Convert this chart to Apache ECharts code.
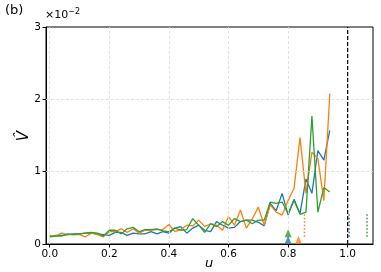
<!DOCTYPE html>
<html><head><meta charset="utf-8">
<script src="https://cdn.jsdelivr.net/npm/echarts@6/dist/echarts.min.js"></script>
<style>html,body{margin:0;padding:0;background:#fff}#c{width:381px;height:272px}</style>
</head><body><div id="c"></div>
<script>
const u = [0.00,0.02,0.04,0.06,0.08,0.10,0.12,0.14,0.16,0.18,0.20,0.22,0.24,0.26,0.28,0.30,0.32,0.34,0.36,0.38,0.40,0.42,0.44,0.46,0.48,0.50,0.52,0.54,0.56,0.58,0.60,0.62,0.64,0.66,0.68,0.70,0.72,0.74,0.76,0.78,0.80,0.82,0.84,0.86,0.88,0.90,0.92,0.94];
const blue = [0.11,0.12,0.12,0.13,0.14,0.14,0.15,0.15,0.14,0.13,0.12,0.16,0.16,0.12,0.15,0.14,0.14,0.17,0.14,0.17,0.15,0.22,0.24,0.15,0.22,0.26,0.19,0.17,0.31,0.26,0.22,0.23,0.31,0.33,0.33,0.30,0.25,0.56,0.46,0.70,0.40,0.62,0.42,0.90,0.70,1.29,1.16,1.57];
const orange = [0.12,0.11,0.15,0.13,0.13,0.13,0.10,0.15,0.13,0.10,0.17,0.17,0.21,0.16,0.21,0.15,0.19,0.19,0.20,0.20,0.27,0.17,0.20,0.26,0.25,0.33,0.24,0.28,0.26,0.19,0.38,0.26,0.47,0.22,0.35,0.51,0.26,0.54,0.44,0.40,0.60,0.77,1.47,0.70,1.27,1.18,0.60,2.08];
const green = [0.10,0.11,0.11,0.14,0.13,0.14,0.15,0.16,0.15,0.11,0.19,0.19,0.14,0.21,0.23,0.17,0.20,0.20,0.21,0.18,0.17,0.22,0.19,0.20,0.35,0.26,0.16,0.28,0.24,0.31,0.26,0.35,0.31,0.33,0.28,0.33,0.33,0.58,0.56,0.58,0.42,0.60,0.41,0.44,1.77,0.44,0.78,0.72];
const xTicks = [0,0.2,0.4,0.6,0.8,1.0];
const yTicks = [0,1,2,3];
const gridX = [0,0.2,0.4,0.6,0.8,1.0];
const gridY = [1,2];
// markers: [u, value]
const blueTri = [[0.80,0.06]];
const greenTri = [[0.80,0.15]];
const orangeTri = [[0.835,0.055]];
// dotted vertical segments: [u, bottom, top]
const orangeDot = [0.855,0.10,0.43];
const blueDot = [1.005,0.10,0.44];
const greenDot = [1.065,0.10,0.44];
const dashU = 1.0;

const C = {blue:'#1f77b4', orange:'#ff7f0e', green:'#2ca02c'};
const zip = (xs, ys) => xs.map((x,i)=>[x, ys[i]]);
const seg = s => [[s[0],s[1]],[s[0],s[2]]];

const chart = echarts.init(document.getElementById('c'), null, {renderer:'canvas'});
const lineS = (data,color)=>({type:'line',data,showSymbol:false,symbol:'none',lineStyle:{color,width:1.3},itemStyle:{color},z:3,animation:false});
const dotS = (s,color)=>({type:'line',data:seg(s),showSymbol:false,symbol:'none',lineStyle:{color,width:1.5,type:[1.5,2]},z:4,animation:false});
const triS = (data,color,z)=>({type:'scatter',data,symbol:'triangle',symbolSize:[7,8],itemStyle:{color},z,animation:false});

chart.setOption({
  animation:false,
  grid:{left:46,right:8,top:27,bottom:28,show:true,borderColor:'#000',borderWidth:1,backgroundColor:'transparent',containLabel:false,outerBoundsMode:'none'},
  xAxis:{type:'value',min:-0.0125,max:1.085,
    axisLine:{show:true,onZero:false,lineStyle:{color:'#000',width:1}},
    axisTick:{show:true,customValues:xTicks,length:3.5,lineStyle:{color:'#000'}},
    axisLabel:{customValues:xTicks,formatter:v=>v.toFixed(1),color:'#000',fontSize:10.5,fontFamily:'DejaVu Sans',margin:5},
    splitLine:{show:false}},
  yAxis:{type:'value',min:0,max:3,interval:1,
    axisLine:{show:true,onZero:false,lineStyle:{color:'#000',width:1}},
    axisTick:{show:true,length:3.5,lineStyle:{color:'#000'}},
    axisLabel:{color:'#000',fontSize:10.5,fontFamily:'DejaVu Sans',margin:5,formatter:v=>String(v)},
    splitLine:{show:false}},
  graphic:[
    {type:'text',left:5,top:4,style:{text:'(b)',font:'13px "DejaVu Sans"',fill:'#000'}},
    {type:'text',left:45,top:8,style:{text:'×10{s|−2}',font:'11px "DejaVu Sans"',fill:'#000',rich:{s:{fontSize:8,verticalAlign:'top',padding:[0,0,6,0],fontFamily:'DejaVu Sans'}}}},
    {type:'text',x:24,y:136,rotation:Math.PI/2,style:{text:'V\u0302',font:'italic 15px "DejaVu Sans"',fill:'#000',align:'center',verticalAlign:'middle'}},
    {type:'text',x:209,y:264,style:{text:'u',font:'italic 13px "DejaVu Sans"',fill:'#000',align:'center',verticalAlign:'middle'}}
  ],
  series:[
    {type:'line',data:[],markLine:{silent:true,symbol:'none',label:{show:false},animation:false,
      lineStyle:{color:'#dcdcdc',width:0.8,type:[3,2]},
      data:[...gridX.map(x=>({xAxis:x})),...gridY.map(y=>({yAxis:y}))]},z:1},
    lineS(zip(u,blue),C.blue),
    lineS(zip(u,orange),C.orange),
    lineS(zip(u,green),C.green),
    {type:'line',data:[[dashU,0],[dashU,3]],showSymbol:false,symbol:'none',lineStyle:{color:'#000',width:1.2,type:[4,2]},z:5,animation:false},
    dotS(orangeDot,C.orange),
    dotS(blueDot,C.blue),
    dotS(greenDot,C.green),
    triS(greenTri,C.green,6),
    triS(blueTri,C.blue,7),
    triS(orangeTri,C.orange,7)
  ]
});
</script></body></html>
